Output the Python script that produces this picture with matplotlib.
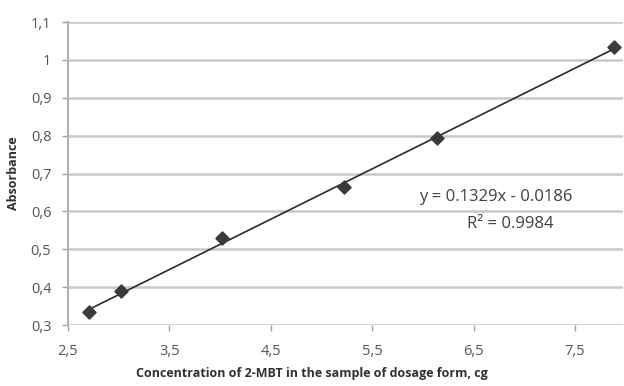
import numpy as np
import matplotlib
matplotlib.use('Agg')
import matplotlib.pyplot as plt

plt.rcParams['font.family'] = ['Open Sans', 'DejaVu Sans']

# data
conc = [2.71, 3.02, 4.02, 5.22, 6.14, 7.88]
absorb = [0.334, 0.390, 0.531, 0.664, 0.795, 1.035]
slope, intercept = 0.1329, -0.0186
x_ticks = [2.5, 3.5, 4.5, 5.5, 6.5, 7.5]
x_labels = ['2,5', '3,5', '4,5', '5,5', '6,5', '7,5']
y_ticks = [0.3, 0.4, 0.5, 0.6, 0.7, 0.8, 0.9, 1.0, 1.1]
y_labels = ['0,3', '0,4', '0,5', '0,6', '0,7', '0,8', '0,9', '1', '1,1']

fig = plt.figure(figsize=(6.24, 3.86), dpi=100)
ax = fig.add_axes([0.109, 0.158, 0.889, 0.785])

# trendline over data range
xl = np.array([conc[0], conc[-1]])
ax.plot(xl, slope * xl + intercept, color='#2a2a2a', lw=1.2, zorder=3)
ax.scatter(conc, absorb, marker='D', s=45, color='#3a3a3a', zorder=4)

ax.set_xlim(2.5, 7.97)
ax.set_ylim(0.3, 1.1)
ax.set_xticks(x_ticks)
ax.set_xticklabels(x_labels)
ax.set_yticks(y_ticks)
ax.set_yticklabels(y_labels)
ax.tick_params(axis='both', colors='#a0a0a0', labelcolor='#555555', labelsize=10.5, length=4, width=1)
ax.tick_params(axis='x', pad=10)
ax.tick_params(axis='y', pad=8)
ax.grid(axis='y', color='#c8c8c8', lw=1.8)
ax.set_axisbelow(True)
for s in ['top', 'right']:
    ax.spines[s].set_visible(False)
ax.spines['left'].set_color('#b0b0b0')
ax.spines['left'].set_linewidth(1.5)
ax.spines['bottom'].set_visible(False)

ax.set_xlabel('Concentration of 2-MBT in the sample of dosage form, cg', fontsize=9,
              fontweight='bold', color='#303030')
ax.xaxis.set_label_coords(0.44, -0.14)
ax.set_ylabel('Absorbance', fontsize=9, fontweight='bold', color='#303030', labelpad=8)

ax.text(6.72, 0.638, 'y = 0.1329x - 0.0186', ha='center', va='center', fontsize=12, color='#404040')
ax.text(6.86, 0.566, 'R² = 0.9984', ha='center', va='center', fontsize=12, color='#404040')

fig.savefig('out.png', dpi=100)
